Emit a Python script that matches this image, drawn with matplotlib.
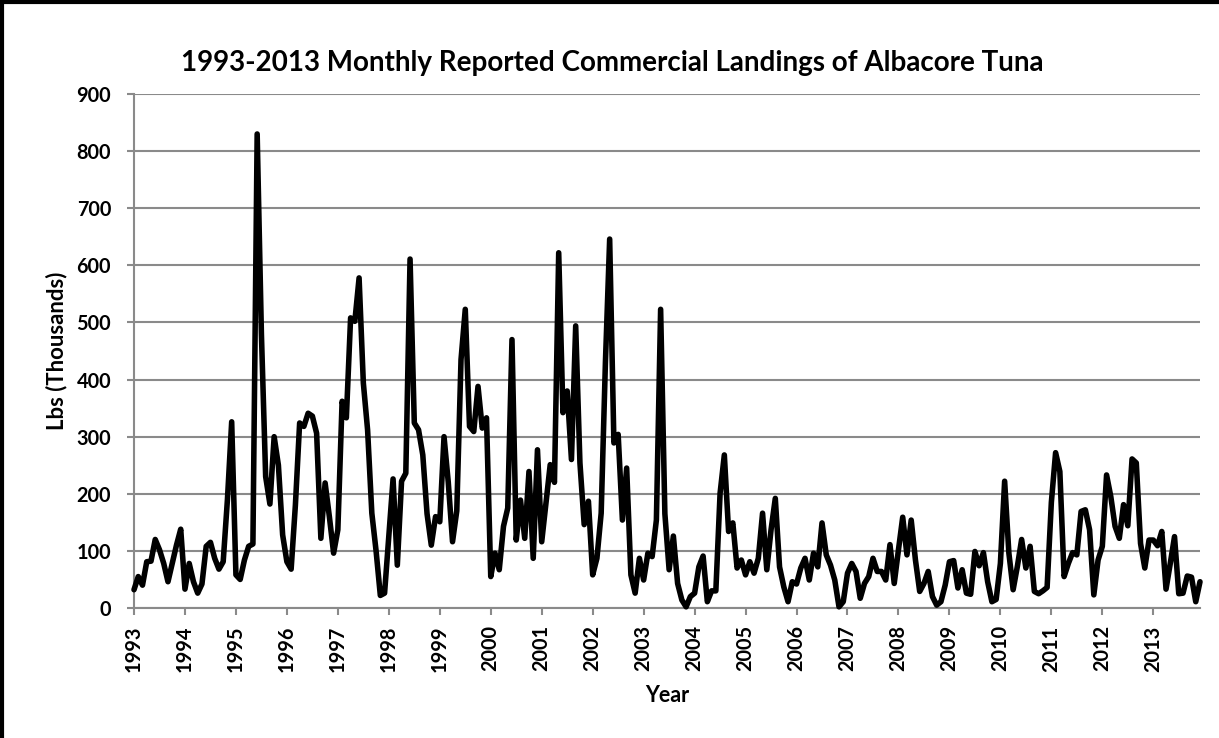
import matplotlib
matplotlib.use('Agg')
import matplotlib.pyplot as plt
import numpy as np
from matplotlib.lines import Line2D

# %% Data: monthly landings, lbs (thousands), Jan 1993 - Dec 2013
years = [str(y) for y in range(1993, 2014)]

landings = [
    32, 55, 40, 81, 82, 120, 102, 78, 46, 78, 110, 138,        # 1993
    33, 78, 46, 26, 42, 108, 115, 87, 68, 81, 190, 326,        # 1994
    58, 50, 84, 108, 112, 830, 480, 230, 182, 300, 250, 128,   # 1995
    81, 68, 180, 324, 318, 341, 336, 306, 122, 219, 160, 96,   # 1996
    137, 362, 333, 508, 502, 578, 394, 312, 166, 100, 22, 26,  # 1997
    125, 226, 75, 222, 236, 611, 324, 312, 268, 165, 110, 160, # 1998
    151, 300, 220, 116, 170, 435, 523, 318, 309, 388, 315, 333,  # 1999
    55, 96, 67, 143, 175, 470, 119, 189, 122, 239, 87, 277,    # 2000
    116, 184, 251, 220, 622, 342, 380, 260, 494, 254, 146, 187,  # 2001
    58, 87, 166, 430, 646, 289, 304, 154, 245, 58, 26, 87,     # 2002
    49, 96, 90, 154, 523, 165, 67, 126, 43, 14, 2, 20,         # 2003
    26, 72, 91, 11, 30, 30, 201, 268, 134, 149, 70, 84,        # 2004
    58, 81, 61, 87, 166, 67, 137, 192, 72, 37, 11, 46,         # 2005
    42, 70, 87, 49, 96, 72, 149, 93, 75, 49, 2, 11,            # 2006
    61, 78, 64, 17, 43, 55, 87, 64, 64, 49, 111, 43,           # 2007
    102, 159, 93, 154, 84, 29, 43, 64, 20, 5, 11, 40,          # 2008
    81, 83, 35, 67, 26, 24, 99, 74, 97, 46, 11, 15,            # 2009
    78, 222, 96, 32, 73, 120, 70, 108, 29, 25, 30, 36,         # 2010
    185, 272, 239, 55, 78, 97, 93, 169, 172, 137, 23, 84,      # 2011
    108, 233, 195, 143, 122, 181, 144, 261, 254, 113, 70, 119, # 2012
    119, 109, 134, 33, 78, 125, 25, 26, 56, 54, 11, 46,        # 2013
]

months = np.arange(len(landings))
title = '1993-2013 Monthly Reported Commercial Landings of Albacore Tuna'

# %% Plot
plt.rcParams['font.family'] = ['Lato', 'DejaVu Sans']
plt.rcParams['font.weight'] = 'bold'

W, H = 1219, 738
fig = plt.figure(figsize=(W / 100, H / 100), dpi=100)
ax = fig.add_axes([134 / W, 1 - 608 / H, 1066 / W, 514 / H])

ax.plot(months, landings, color='black', lw=4.0, solid_joinstyle='round',
        solid_capstyle='round', clip_on=False, zorder=3)

ax.set_xlim(0, len(landings) - 1)
ax.set_ylim(0, 900)
ax.set_yticks(np.arange(0, 901, 100))
ax.set_xticks(np.arange(0, len(landings), 12))
ax.set_xticklabels(years, rotation=90)

grid_col = '#8a8a8a'
ax.grid(axis='y', color=grid_col, lw=1.5)
ax.set_axisbelow(True)
for s in ['top', 'right']:
    ax.spines[s].set_visible(False)
for s in ['left', 'bottom']:
    ax.spines[s].set_color(grid_col)
    ax.spines[s].set_linewidth(1.5)
ax.tick_params(axis='both', colors=grid_col, length=5, width=1.5,
               labelcolor='black', labelsize=14.3)
ax.tick_params(axis='y', pad=11.5)
ax.tick_params(axis='x', pad=7.5)

# titles placed in figure pixels, like the chart layout
t_title = fig.text(612 / W, 1 - 71 / H, title, ha='center', va='baseline',
                   fontsize=18, fontweight='bold')
t_y = fig.text(57 / W, 1 - 351 / H, 'Lbs (Thousands)', ha='center',
               va='center', rotation=90, fontsize=15.5, fontweight='bold')
t_x = fig.text(667 / W, 1 - 702 / H, 'Year', ha='center', va='baseline',
               fontsize=15.5, fontweight='bold')

# scale the title and y label to the widths measured on the reference
fig.canvas.draw()
r = fig.canvas.get_renderer()
w = t_title.get_window_extent(r).width
t_title.set_fontsize(18 * 862 / w)
h = t_y.get_window_extent(r).height
t_y.set_fontsize(15.5 * 158 / h)

# chart frame (top and left edges visible)
fig.add_artist(Line2D([0, 1], [1 - 1.5 / H] * 2, color='black', lw=3))
fig.add_artist(Line2D([1.5 / W] * 2, [0, 1], color='black', lw=3))

plt.savefig('out.png', dpi=100)
